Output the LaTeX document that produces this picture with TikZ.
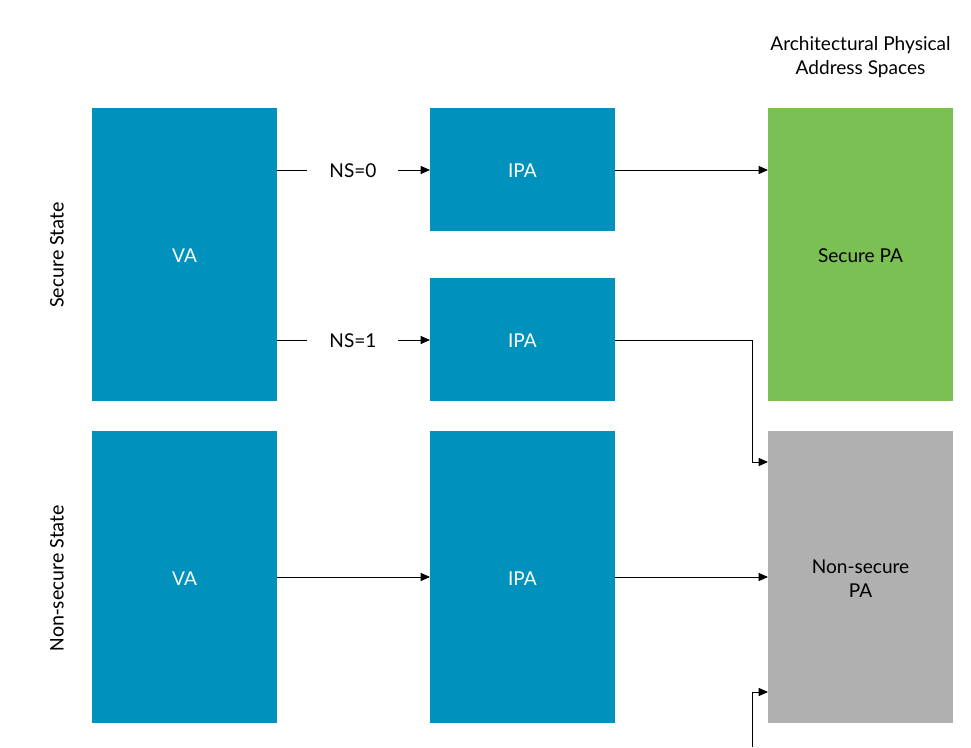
\documentclass[tikz,border=0pt]{standalone}
\usepackage{fontspec}
\setmainfont{Lato}
\newfontfamily\sidefont{Carlito}
\usetikzlibrary{arrows.meta}
\definecolor{armblue}{HTML}{0091BD}
\definecolor{armgreen}{HTML}{7AC052}
\definecolor{armgray}{HTML}{B0B0B0}
\begin{document}
\begin{tikzpicture}[x=0.75pt,y=-0.75pt,
  box/.style={draw=none,inner sep=0pt,text=white,font=\fontsize{14.3}{18}\selectfont},
  conn/.style={draw=black,line width=0.75pt,-{Triangle[length=7pt,width=6pt]}},
  plain/.style={draw=black,line width=0.75pt},
  sidelab/.style={rotate=90,font=\sidefont\fontsize{15.7}{18}\selectfont},
  nslab/.style={font=\fontsize{14.3}{17}\selectfont,inner sep=0pt}]
\useasboundingbox (0,0) rectangle (971,747);
% boxes
\fill[armblue] (92,108) rectangle (277,401);
\node[box] (va1) at (184.5,256) {VA};
\coordinate (va1e0) at (277,170);
\coordinate (va1e1) at (277,340);
\fill[armblue] (92,431) rectangle (277,723);
\node[box] (va2) at (184.5,579) {VA};
\fill[armblue] (430,108) rectangle (615,231);
\node[box] (ipa1) at (522.5,171) {IPA};
\fill[armblue] (430,278) rectangle (615,401);
\node[box] (ipa2) at (522.5,341) {IPA};
\fill[armblue] (430,431) rectangle (615,723);
\node[box] (ipa3) at (522.5,579) {IPA};
\fill[armgreen] (768,108) rectangle (953,401);
\node[box,text=black] (spa) at (860.5,256) {Secure PA};
\fill[armgray] (768,431) rectangle (953,723);
\node[box,text=black,align=center] (nspa) at (860.5,579) {Non-secure\\PA};
% header
\node[align=center,font=\fontsize{14.3}{17.5}\selectfont] (hdr) at (860.5,57) {Architectural Physical\\Address Spaces};
% side labels
\node[sidelab] (ss) at (57,255) {Secure State};
\node[sidelab] (nss) at (57,578) {Non-secure State};
% NS labels
\node[nslab] (ns0) at (353,171) {NS=0};
\node[nslab] (ns1) at (353,341) {NS=1};
\coordinate (ipa1w) at (430,170);
\coordinate (ipa2w) at (430,340);
\coordinate (ns0a) at (307,170);
\coordinate (ns0b) at (398,170);
\coordinate (ns1a) at (307,340);
\coordinate (ns1b) at (398,340);
\draw[plain] (va1e0) -- (ns0a);
\draw[conn] (ns0b) -- (ipa1w);
\draw[plain] (va1e1) -- (ns1a);
\draw[conn] (ns1b) -- (ipa2w);
% right connectors
\coordinate (ipa1e) at (615,170);
\coordinate (spaw) at (768,170);
\draw[conn] (ipa1e) -- (spaw);
\coordinate (ipa2e) at (615,340);
\coordinate (bend1) at (752,340);
\coordinate (nsin1) at (768,462);
\draw[conn] (ipa2e) -- (bend1) |- (nsin1);
\coordinate (va2e) at (277,577);
\coordinate (ipa3w) at (430,577);
\draw[conn] (va2e) -- (ipa3w);
\coordinate (ipa3e) at (615,577);
\coordinate (nsw) at (768,577);
\draw[conn] (ipa3e) -- (nsw);
\coordinate (bottomfree) at (752,747);
\coordinate (nsin2) at (768,692);
\draw[conn] (bottomfree) |- (nsin2);
\end{tikzpicture}
\end{document}
